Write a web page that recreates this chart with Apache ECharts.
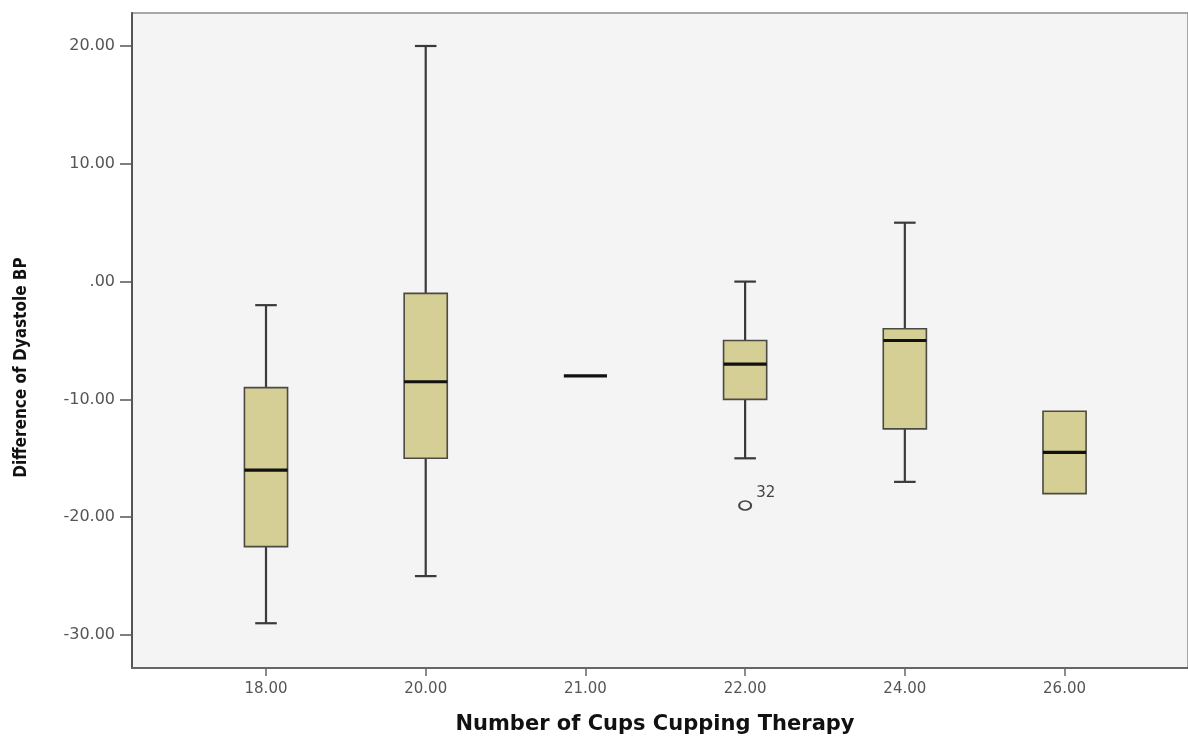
<!DOCTYPE html>
<html>
<head>
<meta charset="utf-8">
<script src="https://cdn.jsdelivr.net/npm/echarts@6/dist/echarts.min.js"></script>
<style>
  html, body { margin: 0; padding: 0; background: #ffffff; }
  #chart { width: 1188px; height: 738px; }
</style>
</head>
<body>
<div id="chart"></div>
<script>
// ---- data ----
const categories = ["18.00", "20.00", "21.00", "22.00", "24.00", "26.00"];
const mins    = [-29,   -25,  -8,  -15, -17,   -18];
const q1s     = [-22.5, -15,  -8,  -10, -12.5, -18];
const medians = [-16,   -8.5, -8,  -7,  -5,    -14.5];
const q3s     = [-9,    -1,   -8,  -5,  -4,    -11];
const maxs    = [-2,    20,   -8,   0,   5,    -11];
const outliers = [[3, -19]];
const outlierLabels = ["32"];
const yTickValues = [-30, -20, -10, 0, 10, 20];
const yTickLabels = ["-30.00", "-20.00", "-10.00", ".00", "10.00", "20.00"];
const xTitle = "Number of Cups Cupping Therapy";
const yTitle = "Difference of Dyastole BP";

const boxData = categories.map((c, i) => [i, mins[i], q1s[i], medians[i], q3s[i], maxs[i]]);

const chart = echarts.init(document.getElementById('chart'), null, { renderer: 'canvas' });

function renderBox(params, api) {
  const idx = api.value(0);
  const vMin = api.value(1), vQ1 = api.value(2), vMed = api.value(3), vQ3 = api.value(4), vMax = api.value(5);
  const unit = api.size([1, 0])[0];
  const bw = unit * 0.27;
  const cw = bw * 0.5;
  const pMin = api.coord([idx, vMin]);
  const pQ1 = api.coord([idx, vQ1]);
  const pMed = api.coord([idx, vMed]);
  const pQ3 = api.coord([idx, vQ3]);
  const pMax = api.coord([idx, vMax]);
  const x = pMed[0];
  const lineStyle = { stroke: '#3a3a3a', lineWidth: 2.2 };
  const children = [];
  if (vMax > vQ3) {
    children.push({ type: 'line', shape: { x1: x, y1: pMax[1], x2: x, y2: pQ3[1] }, style: lineStyle });
    children.push({ type: 'line', shape: { x1: x - cw / 2, y1: pMax[1], x2: x + cw / 2, y2: pMax[1] }, style: lineStyle });
  }
  if (vMin < vQ1) {
    children.push({ type: 'line', shape: { x1: x, y1: pQ1[1], x2: x, y2: pMin[1] }, style: lineStyle });
    children.push({ type: 'line', shape: { x1: x - cw / 2, y1: pMin[1], x2: x + cw / 2, y2: pMin[1] }, style: lineStyle });
  }
  if (vQ3 > vQ1) {
    children.push({
      type: 'rect',
      shape: { x: x - bw / 2, y: pQ3[1], width: bw, height: pQ1[1] - pQ3[1] },
      style: { fill: '#d6cf95', stroke: '#4a4a44', lineWidth: 1.6 }
    });
  }
  children.push({ type: 'line', shape: { x1: x - bw / 2, y1: pMed[1], x2: x + bw / 2, y2: pMed[1] }, style: { stroke: '#111111', lineWidth: 3.2 } });
  return { type: 'group', children };
}

const option = {
  backgroundColor: '#ffffff',
  animation: false,
  grid: {
    left: 132, top: 13, right: 0, bottom: 70,
    outerBoundsMode: 'none',
    containLabel: false,
    show: true, backgroundColor: '#f4f4f4', borderColor: '#8c8c8c', borderWidth: 1.5
  },
  xAxis: {
    type: 'value',
    min: -0.839, max: 5.773,
    name: xTitle, nameLocation: 'middle', nameGap: 46,
    nameTextStyle: { fontFamily: 'DejaVu Sans, Verdana, sans-serif', fontWeight: 'bold', fontSize: 21, color: '#111', padding: [0, 10, 0, 0] },
    splitLine: { show: false },
    axisLine: { show: true, onZero: false, lineStyle: { color: '#666', width: 2 } },
    axisTick: { show: true, customValues: categories.map((c, i) => i), length: 8, lineStyle: { color: '#666', width: 1.5 } },
    axisLabel: {
      customValues: categories.map((c, i) => i),
      formatter: v => categories[Math.round(v)],
      margin: 14, fontSize: 15, color: '#555', fontFamily: 'DejaVu Sans, sans-serif'
    }
  },
  yAxis: {
    type: 'value',
    min: -32.8, max: 22.8,
    name: yTitle, nameLocation: 'middle', nameGap: 102, nameRotate: 90,
    nameTextStyle: { fontFamily: 'Liberation Sans Narrow, DejaVu Sans Condensed, Arial Narrow, sans-serif', fontWeight: 'bold', fontSize: 17, color: '#111', padding: [0, 54, 0, 0] },
    splitLine: { show: false },
    axisLine: { show: true, onZero: false, lineStyle: { color: '#555', width: 2 } },
    axisTick: { show: true, customValues: yTickValues, length: 12, lineStyle: { color: '#555', width: 1.5 } },
    axisLabel: {
      customValues: yTickValues,
      formatter: v => yTickLabels[yTickValues.indexOf(Math.round(v))],
      margin: 17, fontSize: 16, color: '#555', fontFamily: 'DejaVu Sans, sans-serif'
    }
  },
  series: [
    {
      type: 'custom',
      renderItem: renderBox,
      encode: { x: 0, y: [1, 2, 3, 4, 5] },
      data: boxData,
      clip: false
    },
    {
      type: 'scatter',
      data: outliers,
      symbol: 'circle',
      symbolSize: [12, 9],
      itemStyle: { color: 'rgba(0,0,0,0)', borderColor: '#444', borderWidth: 1.8, opacity: 1 },
      label: {
        show: true,
        formatter: p => outlierLabels[p.dataIndex],
        position: 'right', offset: [-1, -12],
        fontSize: 15, color: '#444', fontFamily: 'DejaVu Sans, sans-serif'
      }
    }
  ]
};

chart.setOption(option);
</script>
</body>
</html>
